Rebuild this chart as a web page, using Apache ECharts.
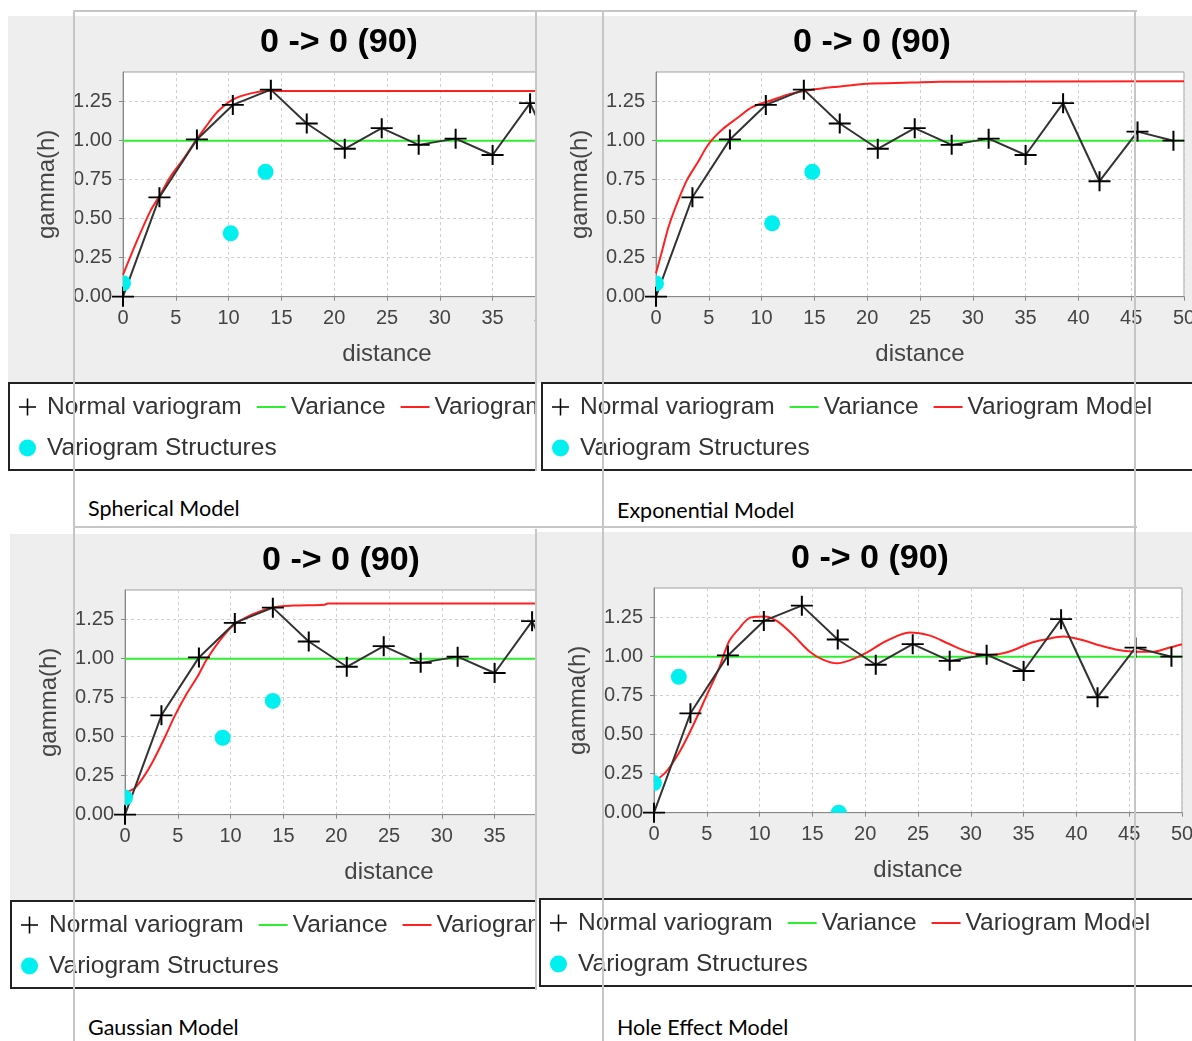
<!DOCTYPE html>
<html>
<head>
<meta charset="utf-8">
<script src="https://cdn.jsdelivr.net/npm/echarts@6/dist/echarts.min.js"></script>
<style>
  html, body { margin: 0; padding: 0; background: #fff; width: 1192px; height: 1041px; overflow: hidden; position: relative; }
  .wrap { position: absolute; overflow: hidden; }
  .chart { position: absolute; top: 0; width: 662px; height: 455px; }
  .rule { position: absolute; background: #c6c6c6; z-index: 10; }
  .cap { position: absolute; font-family: Lato, "Open Sans", sans-serif; font-size: 21.5px; line-height: 24px; color: #000; white-space: nowrap; z-index: 5; }
  .split { background: linear-gradient(#eeeeee 0, #eeeeee 367px, #ffffff 367px); }
</style>
</head>
<body>
<div class="wrap" style="left:8px;top:16px;width:528px;height:455px;"><div class="chart" id="spherical" style="left:0"></div></div>
<div class="wrap split" style="left:537px;top:16px;width:655px;height:455px;"><div class="chart" id="exponential" style="left:4px"></div></div>
<div class="wrap" style="left:10px;top:534px;width:526px;height:455px;"><div class="chart" id="gaussian" style="left:0"></div></div>
<div class="wrap split" style="left:537px;top:532px;width:655px;height:455px;"><div class="chart" id="hole" style="left:2px"></div></div>

<div class="cap" style="left:88px;top:496px;">Spherical Model</div>
<div class="cap" style="left:617px;top:498px;">Exponential Model</div>
<div class="cap" style="left:88px;top:1015px;">Gaussian Model</div>
<div class="cap" style="left:617px;top:1015px;">Hole Effect Model</div>

<!-- table cell borders -->
<div class="rule" style="left:73px;top:10px;width:2px;height:1031px;"></div>
<div class="rule" style="left:602px;top:10px;width:2px;height:1031px;"></div>
<div class="rule" style="left:1134px;top:10px;width:2px;height:1031px;"></div>
<div class="rule" style="left:73px;top:10px;width:1064px;height:2px;"></div>
<div class="rule" style="left:73px;top:526px;width:1064px;height:2px;"></div>
<div class="rule" style="left:535px;top:12px;width:2px;height:459px;"></div>
<div class="rule" style="left:535px;top:529px;width:2px;height:461px;"></div>

<script>
// Experimental variogram (lag distance, gamma)
const lagDistance = [0, 3.45, 7.0, 10.4, 14.0, 17.4, 21.0, 24.5, 28.0, 31.5, 35.0, 38.55, 42.0, 45.6, 49.0];
const normalGamma = [0, 0.637, 1.008, 1.229, 1.327, 1.11, 0.948, 1.08, 0.973, 1.013, 0.908, 1.24, 0.74, 1.058, 1.0];

// Sample variance
const varianceDistance = [0, 50];
const varianceGamma = [1.0, 1.0];

// Fitted model curves [distance, gamma]
const sphericalModel = [
  [0, 0.14], [1.4, 0.37], [2.6, 0.55], [3.45, 0.645], [4.5, 0.77], [5.8, 0.89], [6.9, 1.0],
  [7.85, 1.09], [8.95, 1.185], [10.35, 1.262], [12.1, 1.303], [13.8, 1.318], [50, 1.318]
];
const exponentialModel = [
  [0, 0.15], [0.6, 0.30], [1.2, 0.45], [2.0, 0.60], [2.95, 0.75], [3.9, 0.855], [5.0, 0.98],
  [6.25, 1.07], [7.7, 1.145], [9.1, 1.215], [10.8, 1.256], [12.7, 1.30], [14.6, 1.325],
  [17.2, 1.346], [20.0, 1.365], [24.1, 1.372], [26.9, 1.378], [50, 1.38]
];
const gaussianModel = [
  [0, 0.14], [0.9, 0.17], [1.7, 0.236], [2.65, 0.343], [3.75, 0.493], [4.7, 0.632], [5.8, 0.771],
  [6.9, 0.889], [7.75, 0.996], [8.95, 1.114], [10.2, 1.21], [12.1, 1.285], [14.0, 1.328],
  [15.9, 1.34], [18.9, 1.346], [19.2, 1.354], [50, 1.354]
];
const holeEffectModel = [
  [0, 0.2], [1.1, 0.258], [2.4, 0.387], [3.7, 0.559], [5.0, 0.753], [6.15, 0.925], [7.1, 1.097],
  [7.95, 1.172], [9.1, 1.25], [10.5, 1.258], [11.7, 1.226], [13.15, 1.14], [14.75, 1.032],
  [16.05, 0.979], [17.35, 0.957], [18.65, 0.979], [20.3, 1.032], [21.9, 1.097], [24.2, 1.155],
  [26.15, 1.135], [27.8, 1.086], [29.7, 1.032], [31.7, 1.011], [33.6, 1.032], [35.6, 1.086],
  [36.9, 1.108], [38.8, 1.129], [40.45, 1.108], [42.4, 1.069], [44.0, 1.043], [45.65, 1.032],
  [47.3, 1.032], [48.6, 1.054], [50, 1.08]
];

// Model structures [range, sill]
const sphericalStructures = [[0, 0.086], [10.2, 0.406], [13.5, 0.80]];
const exponentialStructures = [[0, 0.085], [11.0, 0.47], [14.8, 0.80]];
const gaussianStructures = [[0, 0.11], [9.25, 0.493], [14.0, 0.729]];
const holeEffectStructures = [[0, 0.19], [2.35, 0.871], [17.5, 0.0]];

const panelTitle = '0 -> 0 (90)';
const seriesNames = ['Normal variogram', 'Variance', 'Variogram Model', 'Variogram Structures'];

const FONT = 'Liberation Sans, Arial, sans-serif';
const plusPath = 'path://M0,10H22V12H0Z M10,0H12V22H10Z';
const lineIcon = 'path://M0,0H29V2H0Z';
const STRUCT_COLOR = '#00f0f0';

function buildOption(modelCurve, structures) {
  return {
    animation: false,
    backgroundColor: '#eeeeee',
    title: {
      text: panelTitle, left: 'center', top: 10, padding: 0,
      textStyle: { fontFamily: FONT, fontWeight: 'bold', fontSize: 34, color: '#000' }
    },
    grid: {
      left: 115, top: 56, width: 528, height: 224.7,
      show: true, backgroundColor: '#ffffff', borderColor: '#a0a0a0', borderWidth: 1
    },
    xAxis: {
      type: 'value', min: 0, max: 50, interval: 5,
      name: 'distance', nameLocation: 'middle', nameGap: 46,
      nameTextStyle: { fontFamily: FONT, fontSize: 24, color: '#444' },
      axisLine: { show: true, lineStyle: { color: '#888', width: 1 } },
      axisTick: { show: true, length: 4, lineStyle: { color: '#888' } },
      axisLabel: { fontFamily: FONT, fontSize: 20, color: '#444', margin: 12 },
      splitLine: { show: true, lineStyle: { color: '#cfcfcf', width: 1, type: [3, 3] } }
    },
    yAxis: {
      type: 'value', min: 0, max: 1.44, interval: 0.25,
      name: 'gamma(h)', nameLocation: 'middle', nameGap: 64, nameRotate: 90,
      nameTextStyle: { fontFamily: FONT, fontSize: 24, color: '#444' },
      axisLine: { show: true, lineStyle: { color: '#888', width: 1 } },
      axisTick: { show: true, length: 4, lineStyle: { color: '#888' } },
      axisLabel: {
        fontFamily: FONT, fontSize: 20, color: '#444', margin: 11, showMaxLabel: false,
        formatter: v => v.toFixed(2)
      },
      splitLine: { show: true, lineStyle: { color: '#cfcfcf', width: 1, type: [3, 3] } }
    },
    legend: {
      left: 11, top: 378, width: 640, padding: 0, itemGap: 15,
      itemWidth: 29, itemHeight: 17, selectedMode: false,
      textStyle: { fontFamily: FONT, fontSize: 24.5, color: '#333', lineHeight: 26 },
      data: [
        { name: seriesNames[0], icon: plusPath },
        { name: seriesNames[1], icon: lineIcon },
        { name: seriesNames[2], icon: lineIcon },
        { name: seriesNames[3], icon: 'circle' }
      ]
    },
    graphic: [{
      type: 'rect', z: 1, silent: true,
      shape: { x: 1, y: 367, width: 660, height: 87 },
      style: { fill: '#ffffff', stroke: '#222222', lineWidth: 2 }
    }],
    series: [
      {
        name: seriesNames[1], type: 'line', z: 2, silent: true,
        data: varianceDistance.map((d, i) => [d, varianceGamma[i]]),
        symbol: 'none', lineStyle: { color: '#2fee2f', width: 2 }, itemStyle: { color: '#2fee2f' }
      },
      {
        name: seriesNames[2], type: 'line', z: 3, silent: true,
        data: modelCurve, symbol: 'none', smooth: 0.3,
        lineStyle: { color: '#ff2020', width: 2 }, itemStyle: { color: '#ff2020' }
      },
      {
        name: seriesNames[0], type: 'line', z: 4, silent: true,
        data: lagDistance.map((d, i) => [d, normalGamma[i]]),
        symbol: plusPath, symbolSize: [22, 20], showSymbol: true,
        itemStyle: { color: '#000' }, lineStyle: { color: '#333', width: 2 }
      },
      {
        // circles clipped to the plot area
        name: seriesNames[3], type: 'custom', z: 5, silent: true, clip: true,
        data: structures,
        itemStyle: { color: STRUCT_COLOR },
        renderItem: (params, api) => {
          const p = api.coord([api.value(0), api.value(1)]);
          return { type: 'circle', shape: { cx: p[0], cy: p[1], r: 8 }, style: { fill: STRUCT_COLOR } };
        }
      }
    ]
  };
}

const panels = [
  ['spherical', sphericalModel, sphericalStructures],
  ['exponential', exponentialModel, exponentialStructures],
  ['gaussian', gaussianModel, gaussianStructures],
  ['hole', holeEffectModel, holeEffectStructures]
];
panels.forEach(([id, curve, structs]) => {
  const chart = echarts.init(document.getElementById(id), null, { renderer: 'canvas' });
  chart.setOption(buildOption(curve, structs));
});
</script>
</body>
</html>
